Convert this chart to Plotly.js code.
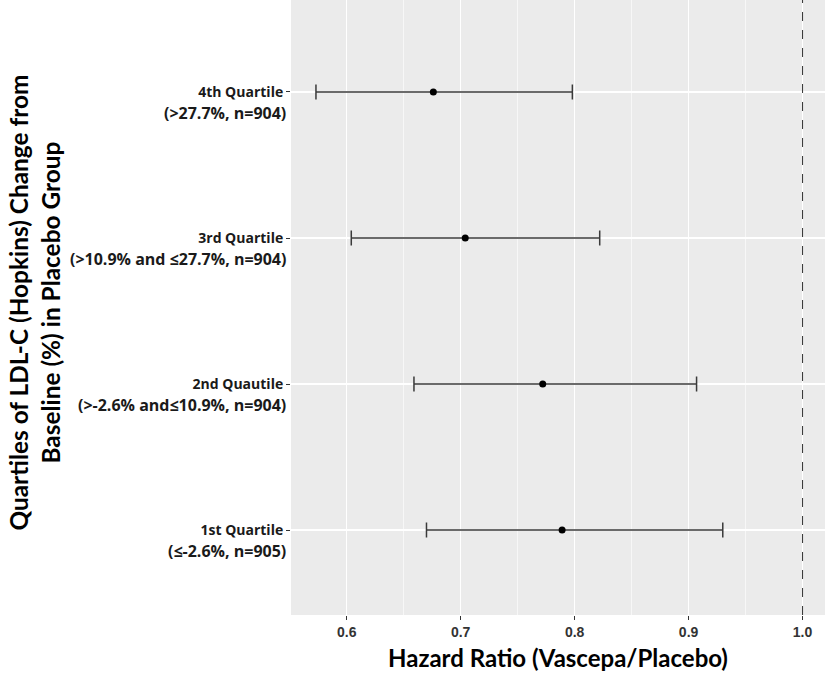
<!DOCTYPE html>
<html>
<head>
<meta charset="utf-8">
<script src="https://cdn.plot.ly/plotly-3.0.1.min.js"></script>
<style>
  html, body { margin: 0; padding: 0; background: #ffffff; }
  #chart { width: 825px; height: 675px; }
</style>
</head>
<body>
<div id="chart"></div>
<script>
// Quartile groups (bottom to top) and their hazard ratios with 95% CI
const categories = ['1st Quartile', '2nd Quautile', '3rd Quartile', '4th Quartile'];
const subLabels = ['(≤-2.6%, n=905)', '(>-2.6% and≤10.9%, n=904)', '(>10.9% and ≤27.7%, n=904)', '(>27.7%, n=904)'];
const hazardRatio = [0.789, 0.772, 0.704, 0.676];
const ciLower = [0.670, 0.659, 0.604, 0.573];
const ciUpper = [0.930, 0.907, 0.822, 0.798];
const xTicks = [0.6, 0.7, 0.8, 0.9, 1.0];
const xTickText = ['0.6', '0.7', '0.8', '0.9', '1.0'];
const refLine = 1.0;

const yPos = categories.map((_, i) => i + 1);

const trace = {
  type: 'scatter',
  mode: 'markers',
  x: hazardRatio,
  y: yPos,
  marker: { color: '#000000', size: 7 },
  error_x: {
    type: 'data',
    symmetric: false,
    array: hazardRatio.map((v, i) => ciUpper[i] - v),
    arrayminus: hazardRatio.map((v, i) => v - ciLower[i]),
    color: '#3a3a3a',
    thickness: 1.5,
    width: 7.5
  },
  hoverinfo: 'x+y',
  showlegend: false
};

const labelFont = { family: '"Open Sans", Lato, sans-serif', size: 14, color: '#1a1a1a' };
const subFont = { family: '"Open Sans", Lato, sans-serif', size: 16, color: '#1a1a1a' };

// second line of each group label, hung just under its tick
const annotations = subLabels.map((t, i) => ({
  xref: 'paper', yref: 'y',
  x: 0, y: yPos[i],
  xanchor: 'right', yanchor: 'middle',
  xshift: -3, yshift: -21,
  text: '<b>' + t + '</b>',
  showarrow: false,
  font: subFont
}));

annotations.push({
  xref: 'paper', yref: 'paper',
  x: -0.4794, y: 0.508,
  xanchor: 'center', yanchor: 'middle',
  textangle: -90,
  text: '<b>Quartiles of LDL-C (Hopkins) Change from<br>Baseline (%) in Placebo Group</b>',
  showarrow: false,
  font: { family: 'Lato, "Open Sans", sans-serif', size: 24.4, color: '#000000' }
});

const layout = {
  width: 825,
  height: 675,
  margin: { l: 291, r: 0, t: 0, b: 60 },
  paper_bgcolor: '#ffffff',
  plot_bgcolor: '#ebebeb',
  xaxis: {
    range: [0.5511, 1.0197],
    tickvals: xTicks,
    ticktext: xTickText.map(s => '<b>' + s + '</b>'),
    ticks: 'outside',
    ticklen: 4,
    tickwidth: 1,
    tickcolor: '#333333',
    tickfont: { family: '"Liberation Sans", Arial, sans-serif', size: 14, color: '#333333' },
    showgrid: true,
    gridcolor: '#ffffff',
    gridwidth: 1.4,
    minor: { tick0: 0.55, dtick: 0.1, showgrid: true, gridcolor: '#ffffff', gridwidth: 0.6, ticks: '' },
    zeroline: false,
    showline: false,
    title: {
      text: '<b>Hazard Ratio (Vascepa/Placebo)</b>',
      font: { family: 'Lato, "Open Sans", sans-serif', size: 24, color: '#000000' },
      standoff: 11
    }
  },
  yaxis: {
    range: [0.418, 4.63],
    tickvals: yPos,
    ticktext: categories.map(s => '<b>' + s + '</b>'),
    ticks: 'outside',
    ticklen: 4,
    tickwidth: 1,
    tickcolor: '#333333',
    tickfont: labelFont,
    showgrid: true,
    gridcolor: '#ffffff',
    gridwidth: 1.4,
    zeroline: false,
    showline: false
  },
  shapes: [{
    type: 'line',
    xref: 'x', yref: 'paper',
    x0: refLine, x1: refLine, y0: 0, y1: 1,
    line: { color: '#333333', width: 1, dash: 'dash' }
  }],
  annotations: annotations
};

Plotly.newPlot('chart', [trace], layout, { displayModeBar: false, staticPlot: true });
</script>
</body>
</html>
